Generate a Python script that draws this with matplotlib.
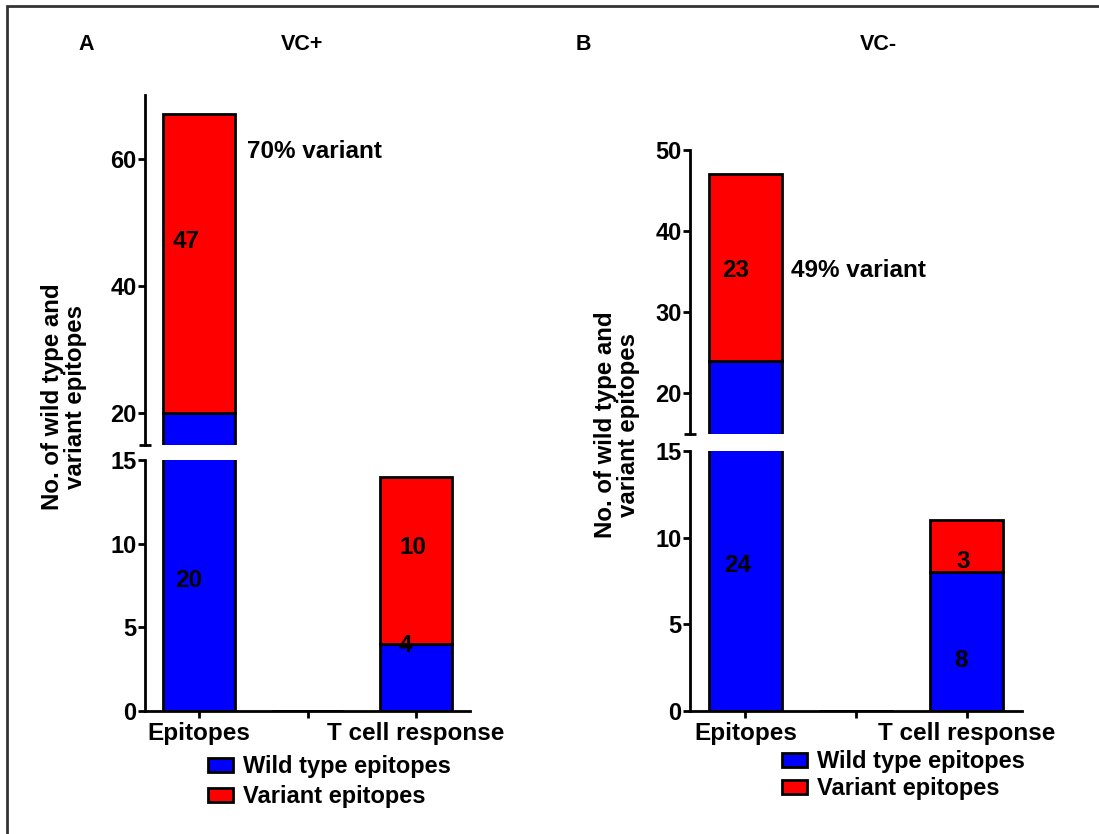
import matplotlib
matplotlib.use('Agg')
import matplotlib.pyplot as plt
from matplotlib.patches import Patch, Rectangle

plt.rcParams['font.family'] = ['Liberation Sans', 'DejaVu Sans']
plt.rcParams['font.weight'] = 'bold'
plt.rcParams['font.size'] = 17

# data
categories = ['Epitopes', '', 'T cell response']
vcp_wild = [20, 0, 4]
vcp_variant = [47, 0, 10]
vcn_wild = [24, 0, 8]
vcn_variant = [23, 0, 3]

WILD = '#0000ff'
VAR = '#ff0000'
W, H = 1099, 834

fig = plt.figure(figsize=(W / 100, H / 100), dpi=100)


def px_axes(x0, x1, ytop, ybot):
    return fig.add_axes([x0 / W, (H - ybot) / H, (x1 - x0) / W, (ybot - ytop) / H])


def draw_bars(ax, wild, variant):
    x = range(len(categories))
    ax.bar(x, wild, width=0.66, color=WILD, edgecolor='black', linewidth=2)
    ax.bar(x, variant, bottom=wild, width=0.66, color=VAR, edgecolor='black', linewidth=2)
    ax.set_xlim(-0.5, 2.5)


def style(ax, lower):
    for s in ['top', 'right']:
        ax.spines[s].set_visible(False)
    ax.spines['left'].set_linewidth(2)
    ax.spines['bottom'].set_linewidth(2)
    ax.tick_params(axis='y', width=2, length=5, pad=1, labelsize=17)
    if lower:
        ax.tick_params(axis='x', width=2, length=5, pad=3, labelsize=17.5)
        ax.set_xticks(range(len(categories)))
        ax.set_xticklabels(categories)
    else:
        ax.spines['bottom'].set_visible(False)
        ax.set_xticks([])
        ax.set_yticks([15], minor=True)
        ax.tick_params(axis='y', which='minor', direction='inout', length=8, width=2)


def panel(x0, x1, lo_top, up_top, up_bot, up_max, up_ticks, wild, variant,
          letter, title, letter_x, title_x, ylab_x, ylab_y, pct, pct_xy,
          labels, leg_xy, leg_sp):
    lo = px_axes(x0, x1, lo_top, 711)
    up = px_axes(x0, x1, up_top, up_bot)
    draw_bars(lo, wild, variant)
    draw_bars(up, wild, variant)
    lo.set_ylim(0, 15)
    lo.set_yticks([0, 5, 10, 15])
    up.set_ylim(15, up_max)
    up.set_yticks(up_ticks)
    style(lo, True)
    style(up, False)
    for ax, x, y, t in labels:
        (lo if ax == 'lo' else up).text(x, y, t, ha='center', va='center', fontsize=17.5)
    up.text(pct_xy[0], pct_xy[1], pct, ha='left', va='center', fontsize=17.5)
    fig.text(letter_x / W, 1 - 45 / H, letter, ha='center', va='center', fontsize=15.5)
    fig.text(title_x / W, 1 - 45 / H, title, ha='center', va='center', fontsize=15.5)
    fig.text(ylab_x / W, 1 - ylab_y / H, 'No. of wild type and\nvariant epitopes',
             rotation=90, ha='center', va='center', fontsize=17.3, linespacing=1.05)
    handles = [Patch(facecolor=WILD, edgecolor='black', linewidth=2),
               Patch(facecolor=VAR, edgecolor='black', linewidth=2)]
    fig.legend(handles, ['Wild type epitopes', 'Variant epitopes'], loc='upper left',
               bbox_to_anchor=(leg_xy[0] / W, 1 - leg_xy[1] / H), frameon=False,
               fontsize=17, borderpad=0, borderaxespad=0, handlelength=1.05,
               handleheight=0.55, handletextpad=0.45, labelspacing=leg_sp)


panel(145, 470, 460, 95, 445, 70, [20, 40, 60], vcp_wild, vcp_variant,
      'A', 'VC+', 86, 302, 64, 397, '70% variant', (0.44, 61.1),
      [('lo', -0.1, 7.8, '20'), ('up', -0.12, 47, '47'),
       ('lo', 1.97, 9.8, '10'), ('lo', 1.9, 3.9, '4')],
      (208, 755), 0.3)

panel(690, 1022, 451, 150, 434, 50, [20, 30, 40, 50], vcn_wild, vcn_variant,
      'B', 'VC-', 583, 878, 617, 425, '49% variant', (0.41, 35.2),
      [('lo', -0.07, 8.4, '24'), ('up', -0.09, 35.2, '23'),
       ('lo', 1.97, 8.6, '3'), ('lo', 1.95, 2.9, '8')],
      (782, 750), 0.18)

# outer frame
fig.patches.append(Rectangle((7 / W, -0.1), 1.2, 1.1 - 6 / H, transform=fig.transFigure,
                             fill=False, edgecolor='#333333', linewidth=2))

fig.savefig('out.png', dpi=100)
